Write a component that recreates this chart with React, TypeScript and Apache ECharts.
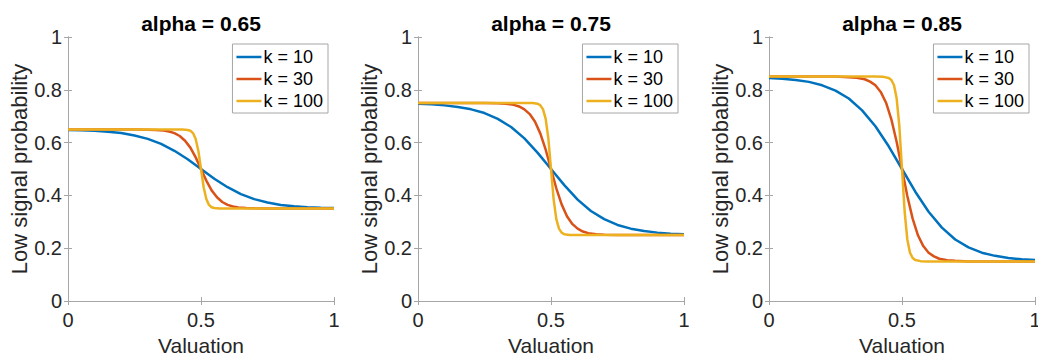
import React, { useEffect, useRef } from "react";
import * as echarts from "echarts";

const TITLES = ["alpha = 0.65", "alpha = 0.75", "alpha = 0.85"];
const K_LABELS = ["k = 10", "k = 30", "k = 100"];
const COLORS = ["#0072BD", "#D95319", "#EDB120"];
const X_TICK_INTERVAL = 0.5;
const Y_TICK_INTERVAL = 0.2;
const X_LABEL = "Valuation";
const Y_LABEL = "Low signal probability";

const X_K10 = [0, 0.05, 0.1, 0.15, 0.2, 0.25, 0.3, 0.35, 0.4, 0.45, 0.5, 0.55, 0.6, 0.65, 0.7, 0.75, 0.8, 0.85, 0.9, 0.95, 1];
const X_K30 = [0, 0.1, 0.2, 0.25, 0.3, 0.33, 0.36, 0.38, 0.4, 0.42, 0.44, 0.46, 0.48, 0.5, 0.52, 0.54, 0.56, 0.58, 0.6, 0.62, 0.64, 0.67, 0.7, 0.75, 0.8, 0.9, 1];
const X_K100 = [0, 0.3, 0.4, 0.43, 0.45, 0.46, 0.47, 0.48, 0.49, 0.5, 0.51, 0.52, 0.53, 0.54, 0.55, 0.57, 0.6, 0.7, 1];

const Y_A65_K10 = [0.648, 0.647, 0.645, 0.641, 0.636, 0.627, 0.614, 0.595, 0.569, 0.537, 0.5, 0.463, 0.431, 0.405, 0.386, 0.373, 0.364, 0.359, 0.355, 0.353, 0.352];
const Y_A65_K30 = [0.65, 0.65, 0.65, 0.65, 0.649, 0.648, 0.646, 0.642, 0.636, 0.625, 0.607, 0.581, 0.544, 0.5, 0.456, 0.419, 0.393, 0.375, 0.364, 0.358, 0.354, 0.352, 0.351, 0.35, 0.35, 0.35, 0.35];
const Y_A65_K100 = [0.65, 0.65, 0.65, 0.65, 0.648, 0.645, 0.636, 0.614, 0.569, 0.5, 0.431, 0.386, 0.364, 0.355, 0.352, 0.35, 0.35, 0.35, 0.35];

const Y_A75_K10 = [0.747, 0.745, 0.741, 0.735, 0.726, 0.712, 0.69, 0.659, 0.616, 0.561, 0.5, 0.439, 0.384, 0.341, 0.31, 0.288, 0.274, 0.265, 0.259, 0.255, 0.253];
const Y_A75_K30 = [0.75, 0.75, 0.75, 0.75, 0.749, 0.747, 0.743, 0.737, 0.726, 0.708, 0.679, 0.634, 0.573, 0.5, 0.427, 0.366, 0.321, 0.292, 0.274, 0.263, 0.257, 0.253, 0.251, 0.25, 0.25, 0.25, 0.25];
const Y_A75_K100 = [0.75, 0.75, 0.75, 0.75, 0.747, 0.741, 0.726, 0.69, 0.616, 0.5, 0.384, 0.31, 0.274, 0.259, 0.253, 0.25, 0.25, 0.25, 0.25];

const Y_A85_K10 = [0.845, 0.842, 0.837, 0.83, 0.817, 0.797, 0.767, 0.722, 0.662, 0.586, 0.5, 0.414, 0.338, 0.278, 0.233, 0.203, 0.183, 0.171, 0.163, 0.158, 0.155];
const Y_A85_K30 = [0.85, 0.85, 0.85, 0.85, 0.848, 0.846, 0.84, 0.831, 0.817, 0.792, 0.751, 0.688, 0.602, 0.5, 0.398, 0.312, 0.249, 0.208, 0.183, 0.169, 0.16, 0.154, 0.152, 0.15, 0.15, 0.15, 0.15];
const Y_A85_K100 = [0.85, 0.85, 0.85, 0.849, 0.845, 0.837, 0.817, 0.767, 0.662, 0.5, 0.338, 0.233, 0.183, 0.163, 0.155, 0.151, 0.15, 0.15, 0.15];

const PANELS = [
  [Y_A65_K10, Y_A65_K30, Y_A65_K100],
  [Y_A75_K10, Y_A75_K30, Y_A75_K100],
  [Y_A85_K10, Y_A85_K30, Y_A85_K100],
];
const XS = [X_K10, X_K30, X_K100];

const FONT = '"Liberation Sans", Arial, Helvetica, sans-serif';
const AXIS_COLOR = "#a6a6a6";
const TEXT_COLOR = "#262626";

const W = 1038;
const H = 356;
const GRID_LEFTS = [68, 418, 769];
const GRID_TOP = 37;
const GRID_W = 266;
const GRID_H = 264;

function zip(xs: number[], ys: number[]) {
  return xs.map((x, i) => [x, ys[i]]);
}

export default function App() {
  const ref = useRef<HTMLDivElement>(null);
  useEffect(() => {
    if (!ref.current) return;
    const chart = echarts.init(ref.current, undefined, { renderer: "svg" });

    const grid: any[] = [];
    const xAxis: any[] = [];
    const yAxis: any[] = [];
    const series: any[] = [];
    const legend: any[] = [];
    const graphic: any[] = [];

    const baseLine = { show: true, lineStyle: { color: AXIS_COLOR, width: 1 } };
    const baseTick = { show: true, inside: true, length: 4, lineStyle: { color: AXIS_COLOR, width: 1 } };

    GRID_LEFTS.forEach((left, gi) => {
      grid.push({
        left, top: GRID_TOP, width: GRID_W, height: GRID_H,
        containLabel: false, outerBoundsMode: "none",
      });
      xAxis.push({
        type: "value", gridIndex: gi, position: "bottom", min: 0, max: 1, interval: X_TICK_INTERVAL,
        axisLine: baseLine, axisTick: baseTick, splitLine: { show: false },
        axisLabel: { color: TEXT_COLOR, fontSize: 20, fontFamily: FONT, margin: 9 },
        name: X_LABEL, nameLocation: "middle", nameGap: 34,
        nameTextStyle: { color: TEXT_COLOR, fontSize: 21, fontFamily: FONT },
      });
      xAxis.push({
        type: "value", gridIndex: gi, position: "top", min: 0, max: 1, interval: X_TICK_INTERVAL,
        axisLine: baseLine, axisTick: baseTick, splitLine: { show: false }, axisLabel: { show: false },
      });
      yAxis.push({
        type: "value", gridIndex: gi, position: "left", min: 0, max: 1, interval: Y_TICK_INTERVAL,
        axisLine: baseLine, axisTick: baseTick, splitLine: { show: false },
        axisLabel: { color: TEXT_COLOR, fontSize: 20, fontFamily: FONT, margin: 6 },
        name: Y_LABEL, nameLocation: "middle", nameGap: 38,
        nameTextStyle: { color: TEXT_COLOR, fontSize: 22, fontFamily: FONT },
      });
      yAxis.push({
        type: "value", gridIndex: gi, position: "right", min: 0, max: 1, interval: Y_TICK_INTERVAL,
        axisLine: baseLine, axisTick: baseTick, splitLine: { show: false }, axisLabel: { show: false },
      });

      PANELS[gi].forEach((ys, ki) => {
        series.push({
          type: "line",
          name: K_LABELS[ki],
          xAxisIndex: gi * 2,
          yAxisIndex: gi * 2,
          data: zip(XS[ki], ys),
          symbol: "none",
          showSymbol: false,
          smooth: false,
          lineStyle: { color: COLORS[ki], width: 2.5 },
          itemStyle: { color: COLORS[ki] },
          z: 2 + ki,
        });
      });

      legend.push({
        data: K_LABELS,
        orient: "vertical",
        right: W - (left + GRID_W - 6),
        top: GRID_TOP + 7,
        icon: "rect",
        itemWidth: 25,
        itemHeight: 2.5,
        itemGap: 4,
        padding: [4, 5, 3, 4],
        backgroundColor: "#ffffff",
        borderColor: AXIS_COLOR,
        borderWidth: 1,
        borderRadius: 0,
        selectedMode: false,
        textStyle: { color: "#000", fontSize: 18, fontFamily: FONT, padding: [0, 0, 0, -3] },
      });

      graphic.push({
        type: "text",
        x: left + GRID_W / 2,
        y: 23,
        style: {
          text: TITLES[gi],
          font: `bold 21px ${FONT}`,
          fill: "#000",
          align: "center",
          verticalAlign: "middle",
        },
      });
    });

    chart.setOption({
      animation: false,
      backgroundColor: "#ffffff",
      grid,
      xAxis,
      yAxis,
      series,
      legend,
      graphic,
    });
    return () => chart.dispose();
  }, []);

  return (
    <div
      ref={ref}
      style={{ position: "fixed", left: 0, top: 0, width: W, height: H, background: "#fff" }}
    />
  );
}
